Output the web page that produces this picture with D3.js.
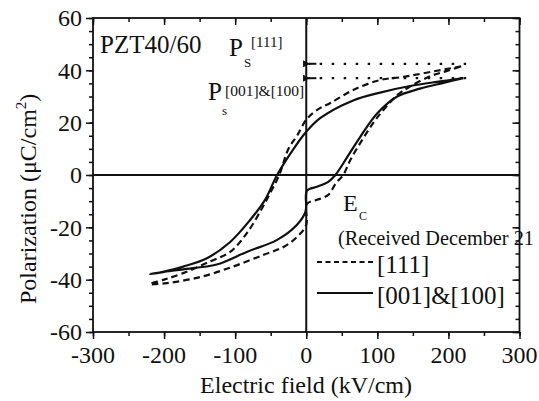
<!DOCTYPE html>
<html>
<head>
<meta charset="utf-8">
<script src="https://cdn.jsdelivr.net/npm/d3@7"></script>
<style>
  body { margin: 0; background: #fff; }
  svg text { font-family: "Liberation Serif", "Times New Roman", serif; fill: #111; }
</style>
</head>
<body>
<svg id="chart" width="539" height="401"></svg>
<script>
var X_TICKS = [-300, -200, -100, 0, 100, 200, 300];
var Y_TICKS = [-60, -40, -20, 0, 20, 40, 60];

// [001]&[100] loop: upper branch (+E -> -E) then lower branch back
var SOLID_E = [221, 200, 184, 146, 104, 66, 20, 0, -19, -41, -58, -79, -107, -139, -173, -210, -220,
               -200, -160, -126, -83, -41, -13, -1, 1, 15, 31, 41, 58, 76, 100, 128, 160, 193, 221];
var SOLID_P = [37, 36.2, 35.6, 34, 31.5, 28.5, 21.8, 16.5, 9.5, 0, -9.5, -17.2, -25.6, -31.7, -35, -37.5, -37.8,
               -37, -35.6, -34.2, -29.3, -24.8, -19, -14, -6, -4.5, -2.6, 0, 7, 14.6, 23.6, 30, 33, 35.2, 37];

// [111] loop
var DASH_E = [218, 175, 137, 104, 66, 34, 16, 1, -13, -25, -38, -50, -62, -83, -107, -135, -173, -200, -220,
              -196, -149, -103, -60, -32, -13, 0, 1, 15, 31, 42, 52, 62, 80, 100, 128, 146, 175, 198, 218];
var DASH_P = [41.5, 39.4, 37.5, 36.3, 32.5, 27.5, 25, 21.5, 15, 10, 0, -6.5, -12.6, -22, -29.4, -33, -37.5, -40, -41.7,
              -41.3, -39, -35, -30.5, -27.5, -23.7, -19, -11, -9.5, -7.6, -3, 0, 5.7, 14, 22, 30.5, 33.8, 37.8, 39.8, 41.5];

// saturation markers (Ps)
var PS_LEVELS = [42.5, 37];
var PS_RANGE = [225, 3];

var svg = d3.select("#chart");
var x = d3.scaleLinear().domain([-300, 300]).range([93, 519.5]);
var y = d3.scaleLinear().domain([-60, 60]).range([332, 18]);

var ink = "#111";

function minor(step, lo, hi) {
  return d3.range(lo, hi + 0.001, step);
}

// ticks: bottom / left outward, top / right inward
function tickAxis(axis, vals, size, pos) {
  var g = svg.append("g").attr("transform", pos)
    .call(axis.tickValues(vals).tickSizeInner(size).tickSizeOuter(0).tickFormat(""));
  g.select(".domain").remove();
  g.selectAll("line").attr("stroke", ink).attr("stroke-width", 1.5);
}

tickAxis(d3.axisBottom(x), minor(50, -300, 300), 4, "translate(0,332)");
tickAxis(d3.axisBottom(x), X_TICKS, 7, "translate(0,332)");
tickAxis(d3.axisLeft(y), minor(5, -60, 60), 4, "translate(93,0)");
tickAxis(d3.axisLeft(y), Y_TICKS, 7, "translate(93,0)");
tickAxis(d3.axisTop(x), minor(50, -300, 300), -4, "translate(0,18)");
tickAxis(d3.axisTop(x), X_TICKS, -7, "translate(0,18)");
tickAxis(d3.axisRight(y), minor(5, -60, 60), -4, "translate(519.5,0)");
tickAxis(d3.axisRight(y), Y_TICKS, -7, "translate(519.5,0)");

// frame
svg.append("rect")
  .attr("x", x(-300)).attr("y", y(60))
  .attr("width", x(300) - x(-300)).attr("height", y(-60) - y(60))
  .attr("fill", "none").attr("stroke", ink).attr("stroke-width", 1.8);

// zero lines
svg.append("line").attr("x1", x(-300)).attr("x2", x(300)).attr("y1", y(0)).attr("y2", y(0))
  .attr("stroke", ink).attr("stroke-width", 2);
svg.append("line").attr("x1", x(0)).attr("x2", x(0)).attr("y1", y(60)).attr("y2", y(-60))
  .attr("stroke", ink).attr("stroke-width", 2);

// tick labels
svg.selectAll(".xl").data(X_TICKS).enter().append("text")
  .attr("x", function(d) { return x(d); }).attr("y", 363)
  .attr("text-anchor", "middle").attr("font-size", 24)
  .text(function(d) { return d; });

svg.selectAll(".yl").data(Y_TICKS).enter().append("text")
  .attr("x", 82).attr("y", function(d) { return y(d); }).attr("dy", "0.35em")
  .attr("text-anchor", "end").attr("font-size", 24)
  .text(function(d) { return d; });

// axis titles
svg.append("text").attr("x", 306).attr("y", 393).attr("text-anchor", "middle")
  .attr("font-size", 24).text("Electric field (kV/cm)");

var yt = svg.append("text").attr("transform", "translate(36,304) rotate(-90)")
  .attr("font-size", 24);
yt.append("tspan").text("Polarization (\u03bcC/cm");
yt.append("tspan").attr("font-size", 15).attr("dy", -10).text("2");
yt.append("tspan").attr("dy", 10).text(")");

// curves
var line = d3.line()
  .x(function(d) { return x(d[0]); })
  .y(function(d) { return y(d[1]); })
  .curve(d3.curveCatmullRom.alpha(0.5));

svg.append("path").datum(d3.zip(DASH_E, DASH_P))
  .attr("d", line).attr("fill", "none").attr("stroke", ink)
  .attr("stroke-width", 2.2).attr("stroke-dasharray", "6.5,4");

svg.append("path").datum(d3.zip(SOLID_E, SOLID_P))
  .attr("d", line).attr("fill", "none").attr("stroke", ink)
  .attr("stroke-width", 2.2);

// Ps arrows
svg.append("defs").append("marker")
  .attr("id", "arr").attr("viewBox", "0 0 10 10").attr("refX", 1).attr("refY", 5)
  .attr("markerWidth", 10).attr("markerHeight", 7).attr("markerUnits", "userSpaceOnUse")
  .attr("orient", "auto")
  .append("path").attr("d", "M10,0 L0,5 L10,10 Z").attr("fill", ink);

PS_LEVELS.forEach(function(p) {
  svg.append("line")
    .attr("x1", x(PS_RANGE[0])).attr("x2", x(PS_RANGE[1]))
    .attr("y1", y(p)).attr("y2", y(p))
    .attr("stroke", ink).attr("stroke-width", 2.2)
    .attr("stroke-dasharray", "2.5,9.5");
  svg.append("line")
    .attr("x1", x(PS_RANGE[1]) + 8).attr("x2", x(PS_RANGE[1]) + 1)
    .attr("y1", y(p)).attr("y2", y(p))
    .attr("stroke", ink).attr("stroke-width", 2)
    .attr("marker-end", "url(#arr)");
});

// annotations
svg.append("text").attr("x", 100).attr("y", 53).attr("font-size", 25).text("PZT40/60");

svg.append("text").attr("x", 229).attr("y", 56).attr("font-size", 25).text("P");
svg.append("text").attr("x", 244).attr("y", 67).attr("font-size", 13).text("S");
svg.append("text").attr("x", 251).attr("y", 47).attr("font-size", 15).text("[111]");

svg.append("text").attr("x", 208).attr("y", 100).attr("font-size", 25).text("P");
svg.append("text").attr("x", 222).attr("y", 115).attr("font-size", 13).text("s");
svg.append("text").attr("x", 225).attr("y", 96).attr("font-size", 15.5).text("[001]&[100]");

svg.append("text").attr("x", 343).attr("y", 211).attr("font-size", 24).text("E");
svg.append("text").attr("x", 359).attr("y", 220).attr("font-size", 12).text("C");

svg.append("text").attr("x", 338).attr("y", 245).attr("font-size", 20.3).text("(Received December 21");

// legend
var LEGEND = [
  { label: "[111]", dash: "5,3.5", y: 262 },
  { label: "[001]&[100]", dash: null, y: 293 }
];
LEGEND.forEach(function(d) {
  svg.append("line").attr("x1", 317).attr("x2", 373).attr("y1", d.y).attr("y2", d.y)
    .attr("stroke", ink).attr("stroke-width", 2.2)
    .attr("stroke-dasharray", d.dash);
  svg.append("text").attr("x", 377).attr("y", d.y + 11).attr("font-size", 25).text(d.label);
});
</script>
</body>
</html>
